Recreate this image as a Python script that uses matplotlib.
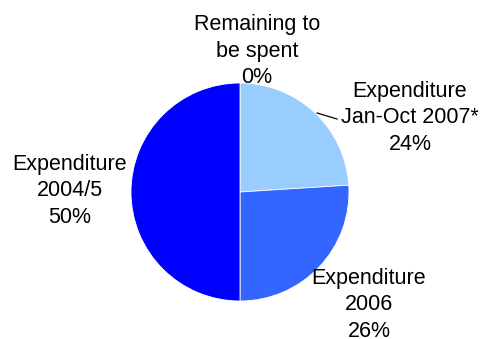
import matplotlib
matplotlib.use("Agg")
import matplotlib.pyplot as plt

plt.rcParams["font.family"] = ["Liberation Sans", "DejaVu Sans"]

categories = ["Remaining to\nbe spent", "Expenditure\nJan-Oct 2007*",
              "Expenditure\n2006", "Expenditure\n2004/5"]
shares = [0, 24, 26, 50]
colors = ["#FFFFFF", "#99CCFF", "#3366FF", "#0000FF"]

# label anchor points (pixel units, origin bottom-left)
label_pos = [(257, 288), (410, 221), (369, 34), (70, 148)]

fig = plt.figure(figsize=(4.81, 3.39), dpi=100)
ax = fig.add_axes([0, 0, 1, 1])

ax.pie(shares, colors=colors, startangle=90, counterclock=False,
       center=(240, 147), radius=109, frame=True,
       wedgeprops=dict(edgecolor="white", linewidth=0.6))
ax.set_xlim(0, 481)
ax.set_ylim(0, 339)
ax.set_aspect("equal")
ax.axis("off")

for name, val, (x, y) in zip(categories, shares, label_pos):
    ax.text(x, y, f"{name}\n{val}%", ha="center", va="center",
            fontsize=15.5, color="black", linespacing=1.36)

# leader line for the Jan-Oct slice
ax.plot([317, 337], [226, 220], color="black", lw=0.9)

fig.savefig("out.png", dpi=100)
